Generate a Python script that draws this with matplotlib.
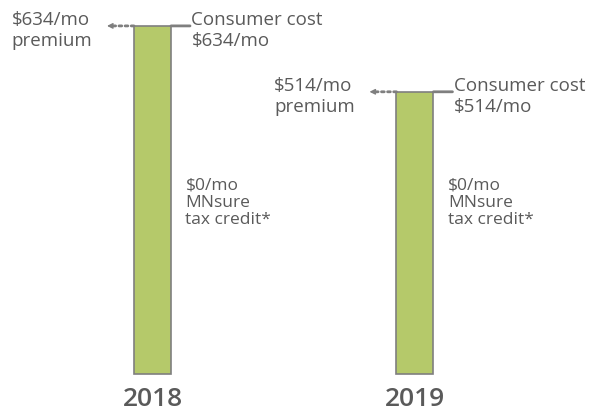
import matplotlib.pyplot as plt

# data
years = ['2018', '2019']
premium = [634, 514]
tax_credit = [0, 0]

bar_color = '#b5c96a'
edge_color = '#7f7f7f'
text_color = '#5a5a5a'

plt.rcParams['font.family'] = ['Open Sans', 'DejaVu Sans']

fig = plt.figure(figsize=(6.05, 4.14), dpi=100)
ax = fig.add_axes([0, 0, 1, 1])

x = list(range(len(years)))
width = 0.141
ax.bar(x, premium, width=width, color=bar_color, edgecolor=edge_color, linewidth=1.2)

pt = 0.72  # points per pixel at 100 dpi
px = 1 / 262.5  # x data units per pixel
for i, (yr, p, tc) in enumerate(zip(years, premium, tax_credit)):
    left = i - width / 2
    # dotted arrow to the premium label
    ax.annotate('', xy=(left - 20 * px, p), xytext=(left, p),
                arrowprops=dict(arrowstyle='-', color=edge_color, lw=2, linestyle=(0, (1, 1.2)),
                                shrinkA=0, shrinkB=0))
    ax.annotate('', xy=(left - 27 * px, p), xytext=(left - 20 * px, p),
                arrowprops=dict(arrowstyle='-|>', color=edge_color, lw=1,
                                mutation_scale=8, shrinkA=0, shrinkB=0))
    ax.annotate(f'${p}/mo\npremium', xy=(i, p), xytext=(-141 * pt, 16 * pt),
                textcoords='offset points', ha='left', va='top', fontsize=13.5,
                color=text_color, linespacing=1.2)
    # leader line to consumer cost
    ax.annotate('', xy=(i + width / 2, p), xytext=(19 * pt, 0), textcoords='offset points',
                arrowprops=dict(arrowstyle='-', color=edge_color, lw=2, shrinkA=0, shrinkB=0))
    ax.annotate(f'Consumer cost\n${p - tc}/mo', xy=(i, p), xytext=(39 * pt, 16 * pt),
                textcoords='offset points', ha='left', va='top', fontsize=13.5,
                color=text_color, linespacing=1.2)
    ax.annotate(f'${tc}/mo\nMNsure\ntax credit*', xy=(i, 360), xytext=(33 * pt, 0),
                textcoords='offset points', ha='left', va='top', fontsize=12.5,
                color=text_color, linespacing=1.12)
    ax.text(i, -44, yr, ha='center', va='center', fontsize=19, color=text_color,
            fontweight='semibold')

ax.set_xlim(-0.581, 1.724)
ax.set_ylim(-71, 683)
ax.axis('off')

plt.savefig('out.png', dpi=100)
